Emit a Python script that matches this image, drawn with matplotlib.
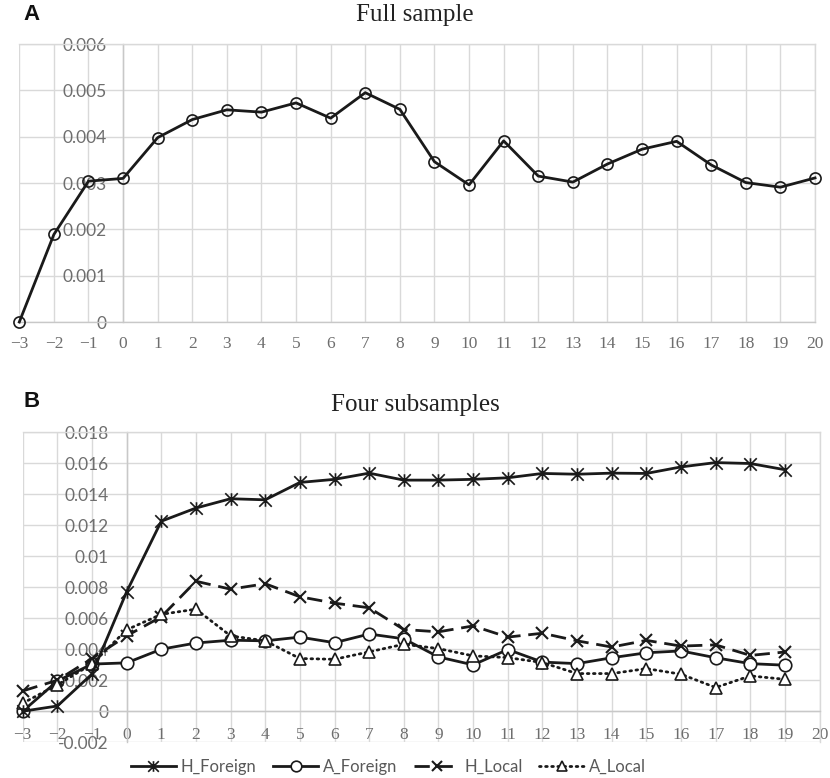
import numpy as np
import matplotlib
matplotlib.use("Agg")
import matplotlib.pyplot as plt
from matplotlib.ticker import FuncFormatter
from matplotlib.path import Path

# ---------------- data ----------------
x_full = list(range(-3, 21))
full_sample = [0.0, 0.00189, 0.00304, 0.00310, 0.00398, 0.00437, 0.00458, 0.00453,
               0.00473, 0.00440, 0.00495, 0.00459, 0.00346, 0.00296, 0.00391, 0.00315,
               0.00302, 0.00341, 0.00373, 0.00390, 0.00339, 0.00301, 0.00291, 0.00311]

x_sub = list(range(-3, 20))
h_foreign = [0.0, 0.00034, 0.00240, 0.00770, 0.01225, 0.01310, 0.01370, 0.01363,
             0.01475, 0.01495, 0.01535, 0.01490, 0.01490, 0.01495, 0.01505, 0.01533,
             0.01528, 0.01535, 0.01533, 0.01575, 0.01603, 0.01597, 0.01557]
a_foreign = [0.0, 0.00195, 0.00304, 0.00312, 0.00400, 0.00440, 0.00458, 0.00454,
             0.00478, 0.00442, 0.00498, 0.00467, 0.00350, 0.00299, 0.00398, 0.00317,
             0.00307, 0.00345, 0.00377, 0.00389, 0.00345, 0.00307, 0.00297]
h_local = [0.00131, 0.00200, 0.00340, 0.00486, 0.00609, 0.00838, 0.00787, 0.00822,
           0.00738, 0.00697, 0.00667, 0.00527, 0.00512, 0.00550, 0.00478, 0.00503,
           0.00454, 0.00414, 0.00457, 0.00420, 0.00428, 0.00360, 0.00382]
a_local = [0.00052, 0.00170, 0.00305, 0.00525, 0.00625, 0.00658, 0.00486, 0.00454,
           0.00340, 0.00335, 0.00383, 0.00432, 0.00404, 0.00357, 0.00346, 0.00314,
           0.00243, 0.00243, 0.00275, 0.00239, 0.00153, 0.00228, 0.00206]

yticks_a = [0, 0.001, 0.002, 0.003, 0.004, 0.005, 0.006]
yticks_b = [-0.002, 0, 0.002, 0.004, 0.006, 0.008, 0.01, 0.012, 0.014, 0.016, 0.018]

# ---------------- style ----------------
LINE = "#1a1a1a"
GRID = "#d9d9d9"
LABEL = "#6e6e6e"
SANS = ["Lato", "DejaVu Sans"]
SERIF = ["Liberation Serif", "DejaVu Serif"]
plt.rcParams["axes.unicode_minus"] = True

# Excel style "star" marker: an x with a vertical bar through it
star = Path([(-1, -1), (1, 1), (-1, 1), (1, -1), (0, -1), (0, 1)],
            [Path.MOVETO, Path.LINETO, Path.MOVETO, Path.LINETO, Path.MOVETO, Path.LINETO])

fig = plt.figure(figsize=(8.3, 7.78), dpi=100)
ax_a = fig.add_axes([0.02325, 0.5861, 0.9587, 0.3573])
ax_b = fig.add_axes([0.02735, 0.0459, 0.9601, 0.3988])

fmt = FuncFormatter(lambda v, pos: f"{round(v, 6):g}".replace("\u2212", "-"))


def style_axes(ax, xlim, ylim, yticks, xpad, ypad):
    ax.set_xlim(*xlim)
    ax.set_ylim(*ylim)
    ax.set_xticks(range(xlim[0], xlim[1] + 1))
    ax.set_yticks(yticks)
    ax.yaxis.set_major_formatter(fmt)
    ax.set_axisbelow(True)
    ax.grid(True, color=GRID, lw=1.0)
    for s in ax.spines.values():
        s.set_color(GRID)
        s.set_linewidth(1.0)
    ax.spines["left"].set_position(("data", 0))
    ax.spines["bottom"].set_position(("data", 0))
    ax.spines["left"].set_color("#c8c8c8")
    ax.spines["bottom"].set_color("#c8c8c8")
    ax.tick_params(axis="both", length=0)
    ax.tick_params(axis="x", pad=xpad, labelcolor=LABEL)
    ax.tick_params(axis="y", pad=ypad, labelcolor=LABEL)
    for t in ax.get_xticklabels():
        t.set_fontfamily(SERIF)
        t.set_fontsize(12.5)
    for t in ax.get_yticklabels():
        t.set_fontfamily(SANS)
        t.set_fontsize(12.5)
    for s in ax.spines.values():
        s.set_zorder(0.6)


# ---------------- panel A ----------------
style_axes(ax_a, (-3, 20), (0, 0.006), yticks_a, 10, 12)
ax_a.plot(x_full, full_sample, color=LINE, lw=2.0, marker="o", ms=8,
          mfc="none", mec=LINE, mew=1.2, clip_on=False, zorder=3)

fig.text(0.028, 0.981, "A", fontsize=16, fontweight="bold",
         family=["Liberation Sans", "DejaVu Sans"], color="#111111", va="center")
fig.text(0.5, 0.981, "Full sample", fontsize=18, family=SERIF,
         color="#222222", ha="center", va="center")

# ---------------- panel B ----------------
style_axes(ax_b, (-3, 20), (-0.002, 0.018), yticks_b, 11, 13)

ax_b.plot(x_sub, h_foreign, color=LINE, lw=2.0, marker=star, ms=9, mew=1.2,
          mec=LINE, clip_on=False, zorder=4, label="H_Foreign")
ax_b.plot(x_sub, a_foreign, color=LINE, lw=2.0, marker="o", ms=9,
          mfc="white", mec=LINE, mew=1.2, clip_on=False, zorder=3, label="A_Foreign")
ax_b.plot(x_sub, h_local, color=LINE, lw=2.0, dashes=(5.5, 2.8), marker="x", ms=9,
          mew=1.5, mec=LINE, clip_on=False, zorder=3, label="H_Local")
ax_b.plot(x_sub, a_local, color=LINE, lw=2.0, linestyle=(0, (0.6, 1.6)),
          dash_capstyle="round", marker="^", ms=8.5, mfc="white", mec=LINE,
          mew=1.2, clip_on=False, zorder=3, label="A_Local")

fig.text(0.028, 0.484, "B", fontsize=16, fontweight="bold",
         family=["Liberation Sans", "DejaVu Sans"], color="#111111", va="center")
fig.text(0.5, 0.479, "Four subsamples", fontsize=18, family=SERIF,
         color="#222222", ha="center", va="center")

leg = fig.legend(loc="center", bbox_to_anchor=(0.468, 0.0145), ncol=4,
                 frameon=False, handlelength=2.7, columnspacing=1.0,
                 handletextpad=0.3, markerscale=0.85,
                 prop={"family": SANS, "size": 12})
for t in leg.get_texts():
    t.set_color("#595959")

fig.savefig("out.png", dpi=100)
